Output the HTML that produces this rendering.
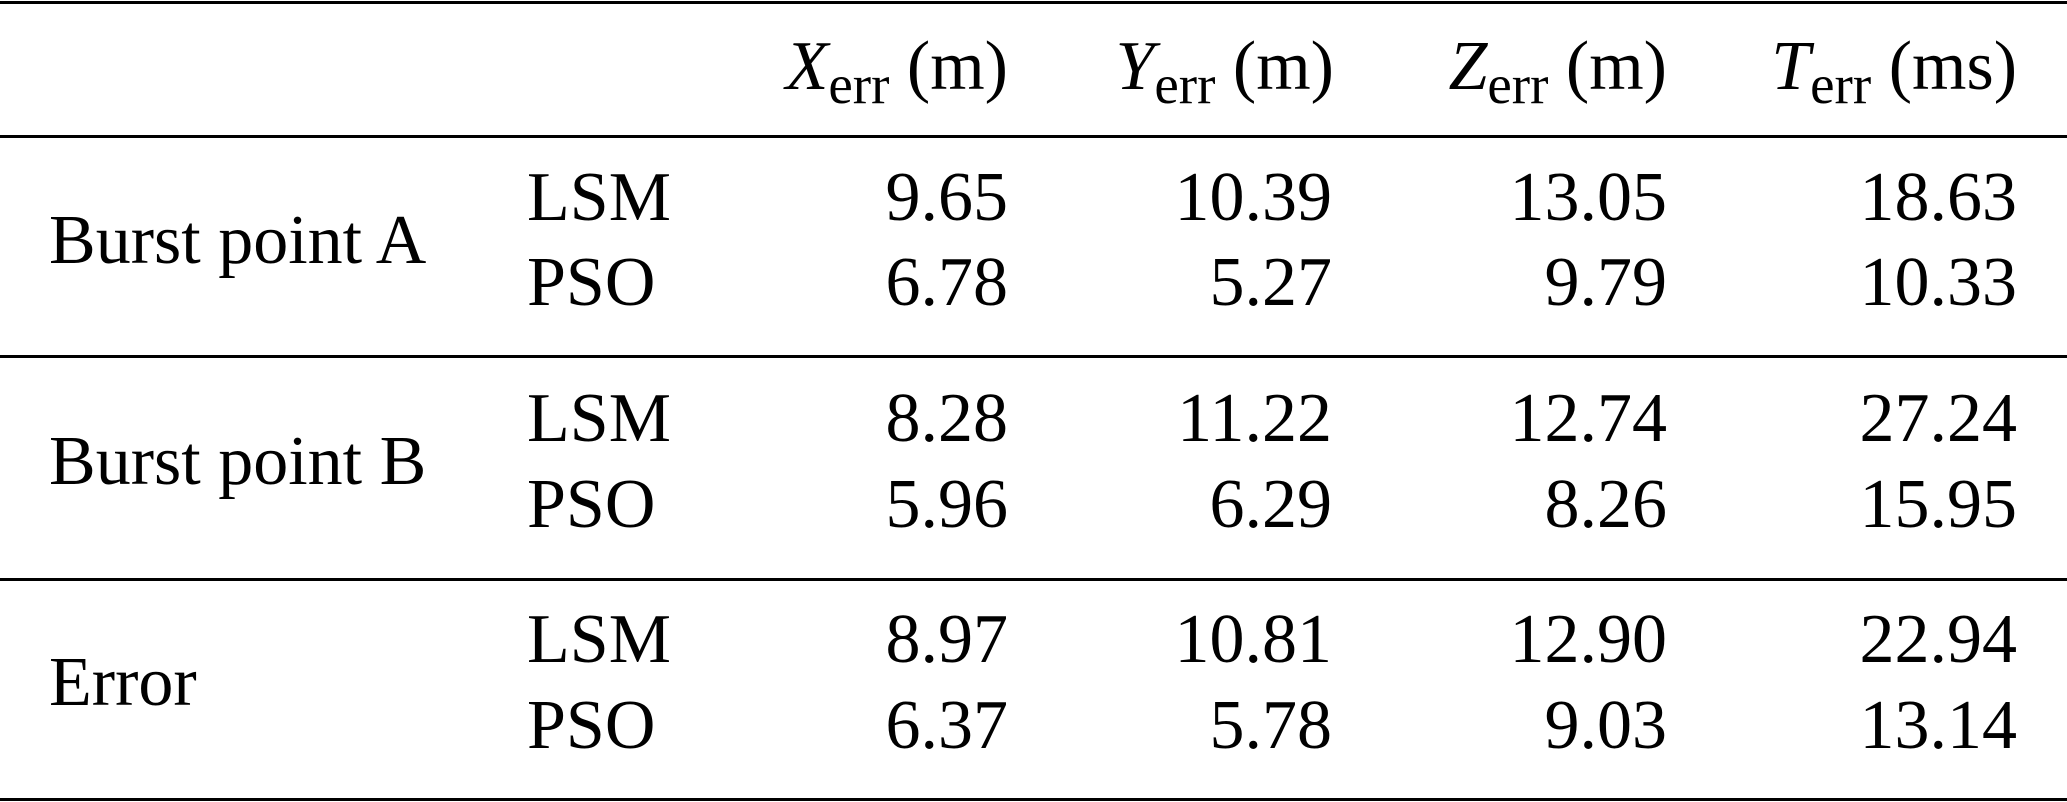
<!DOCTYPE html>
<html><head><meta charset="utf-8"><style>
html,body{margin:0;padding:0;background:#fff;}
body{width:2067px;height:802px;position:relative;overflow:hidden;font-family:"Liberation Serif","Times New Roman",serif;color:#000;}
.t{position:absolute;font-size:70px;line-height:70px;white-space:nowrap;}
.r{text-align:right;}
.l{position:absolute;left:0;width:2067px;height:3px;background:#000;}
sub{font-size:55px;vertical-align:-14px;line-height:0;}
i{font-style:italic;}
</style></head><body>
<div class="l" style="top:1px"></div>
<div class="l" style="top:135px"></div>
<div class="l" style="top:355px"></div>
<div class="l" style="top:578px"></div>
<div class="l" style="top:798px"></div>

<div class="t r" style="right:1059px;top:32px"><i>X</i><sub>err</sub> (m)</div>
<div class="t r" style="right:733px;top:32px"><i>Y</i><sub>err</sub> (m)</div>
<div class="t r" style="right:400px;top:32px"><i>Z</i><sub>err</sub> (m)</div>
<div class="t r" style="right:50px;top:32px"><i>T</i><sub>err</sub> (ms)</div>

<div class="t" style="left:49px;top:206px">Burst point A</div>
<div class="t" style="left:49px;top:427px">Burst point B</div>
<div class="t" style="left:49px;top:648px">Error</div>

<div class="t" style="left:527px;top:163px">LSM</div>
<div class="t" style="left:527px;top:248px">PSO</div>
<div class="t" style="left:527px;top:384px">LSM</div>
<div class="t" style="left:527px;top:470px">PSO</div>
<div class="t" style="left:527px;top:605px">LSM</div>
<div class="t" style="left:527px;top:691px">PSO</div>

<div class="t r" style="right:1059px;top:163px">9.65</div>
<div class="t r" style="right:1059px;top:248px">6.78</div>
<div class="t r" style="right:1059px;top:384px">8.28</div>
<div class="t r" style="right:1059px;top:470px">5.96</div>
<div class="t r" style="right:1059px;top:605px">8.97</div>
<div class="t r" style="right:1059px;top:691px">6.37</div>

<div class="t r" style="right:735px;top:163px">10.39</div>
<div class="t r" style="right:735px;top:248px">5.27</div>
<div class="t r" style="right:735px;top:384px">11.22</div>
<div class="t r" style="right:735px;top:470px">6.29</div>
<div class="t r" style="right:735px;top:605px">10.81</div>
<div class="t r" style="right:735px;top:691px">5.78</div>

<div class="t r" style="right:400px;top:163px">13.05</div>
<div class="t r" style="right:400px;top:248px">9.79</div>
<div class="t r" style="right:400px;top:384px">12.74</div>
<div class="t r" style="right:400px;top:470px">8.26</div>
<div class="t r" style="right:400px;top:605px">12.90</div>
<div class="t r" style="right:400px;top:691px">9.03</div>

<div class="t r" style="right:50px;top:163px">18.63</div>
<div class="t r" style="right:50px;top:248px">10.33</div>
<div class="t r" style="right:50px;top:384px">27.24</div>
<div class="t r" style="right:50px;top:470px">15.95</div>
<div class="t r" style="right:50px;top:605px">22.94</div>
<div class="t r" style="right:50px;top:691px">13.14</div>
</body></html>
